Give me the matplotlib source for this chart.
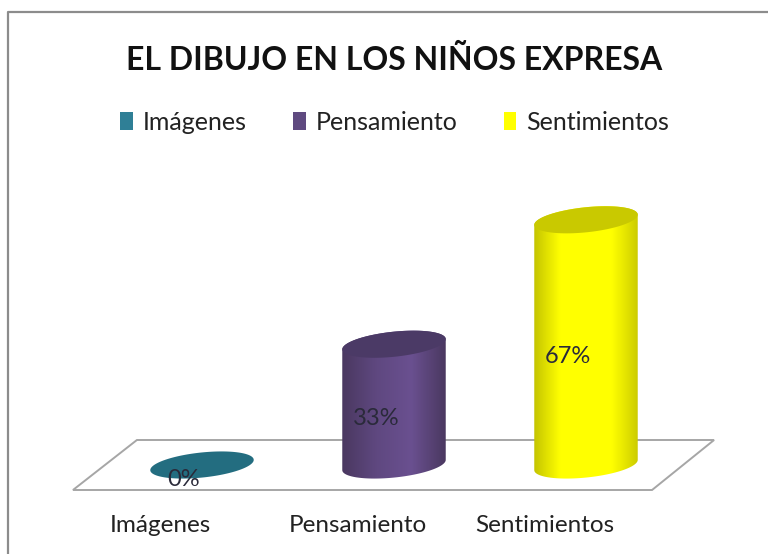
import matplotlib
matplotlib.use('Agg')
import matplotlib.pyplot as plt
import numpy as np
from matplotlib.colors import LinearSegmentedColormap
from matplotlib.lines import Line2D
from matplotlib.patches import Patch, Polygon

plt.rcParams['font.family'] = ['Lato', 'DejaVu Sans']

# Data
categories = ['Imágenes', 'Pensamiento', 'Sentimientos']
values = [0, 33, 67]
labels = ['0%', '33%', '67%']
legend_colors = ['#2f7f96', '#5f4a80', '#ffff00']
cap_colors = ['#236d80', '#4b3a66', '#c9c900']
side_colors = [
    ['#1f5f70', '#2f7f96', '#1f5f70'],
    ['#4a3860', '#5f4880', '#6a5090', '#4a3860'],
    ['#c4c400', '#ffff00', '#ffff00', '#ffff00', '#cccc00'],
]

# scale of the picture: one category is 192 px, one percent is 3.66 px
px_x = 192.0
px_y = 3.66
rx = 52
ry = 12.5
a = rx / px_x
b = ry / px_y
tilt = np.radians(6)

fig = plt.figure(figsize=(7.68, 5.54), dpi=100)
ax = fig.add_axes([0, 0, 1, 1])
ax.set_xlim(-202 / px_x, (768 - 202) / px_x)
ax.set_ylim(-89 / px_y, 465 / px_y)
ax.axis('off')


def ellipse(x0, y0, t):
    # tilted ellipse, worked out in pixels so the tilt looks right
    ex = rx * np.cos(t) * np.cos(tilt) - ry * np.sin(t) * np.sin(tilt)
    ey = rx * np.cos(t) * np.sin(tilt) + ry * np.sin(t) * np.cos(tilt)
    return x0 + ex / px_x, y0 + ey / px_y


# floor
floor = Polygon([(-0.672, -6.83), (2.344, -6.83), (2.667, 6.83), (-0.339, 6.83)],
                closed=True, facecolor='white', edgecolor='#a6a6a6', linewidth=1.4, zorder=1)
ax.add_patch(floor)

# cylinders
t0 = np.arctan2(-ry * np.tan(tilt), rx)
t_low = np.linspace(t0 + np.pi, t0 + 2 * np.pi, 80)
t_up = np.linspace(t0, t0 + np.pi, 80)
t_all = np.linspace(0, 2 * np.pi, 160)

for i, v in enumerate(values):
    if v > 0:
        xl, yl = ellipse(i, 0, t_low)
        xu, yu = ellipse(i, v, t_up)
        body = Polygon(np.column_stack([np.r_[xl, xu], np.r_[yl, yu]]), closed=True,
                       facecolor='none', edgecolor='none', zorder=2)
        ax.add_patch(body)
        cmap = LinearSegmentedColormap.from_list('side%d' % i, side_colors[i])
        grad = np.linspace(0, 1, 256).reshape(1, -1)
        im = ax.imshow(grad, cmap=cmap, aspect='auto', zorder=2,
                       extent=[i - a, i + a, -b - 2, v + b + 2])
        im.set_clip_path(body)
    xc, yc = ellipse(i, v, t_all)
    ax.fill(xc, yc, color=cap_colors[i], linewidth=0, zorder=3)
    ax.text(i - 18 / px_x, v / 2 - 14 / px_y, labels[i], ha='center', va='center',
            fontsize=17, color='#2a2a3a', zorder=4)
    cat_shift = [42, 36, 41][i]
    ax.text(i - cat_shift / px_x, -61 / px_y, categories[i], ha='center', va='center',
            fontsize=17.5, color='#222222', zorder=4)

# restore limits, imshow changes them
ax.set_xlim(-202 / px_x, (768 - 202) / px_x)
ax.set_ylim(-89 / px_y, 465 / px_y)

# title and legend
ax.text(0.513, 0.892, 'EL DIBUJO EN LOS NIÑOS EXPRESA', transform=ax.transAxes, ha='center',
        va='center', fontsize=23, fontweight='bold', color='#111111')

handles = [Patch(facecolor=c, edgecolor='none') for c in legend_colors]
ax.legend(handles, categories, ncol=3, loc='center', bbox_to_anchor=(0.514, 0.779),
          frameon=False, fontsize=18, handlelength=0.5, handleheight=0.7,
          handletextpad=0.4, columnspacing=1.85, labelcolor='#222222')

# chart border, only left and top are visible
ax.add_line(Line2D([0.011, 0.011, 1], [0, 0.978, 0.978], transform=ax.transAxes,
                   color='#8c8c8c', linewidth=1.6, zorder=5))

fig.savefig('out.png', dpi=100, facecolor='white')
